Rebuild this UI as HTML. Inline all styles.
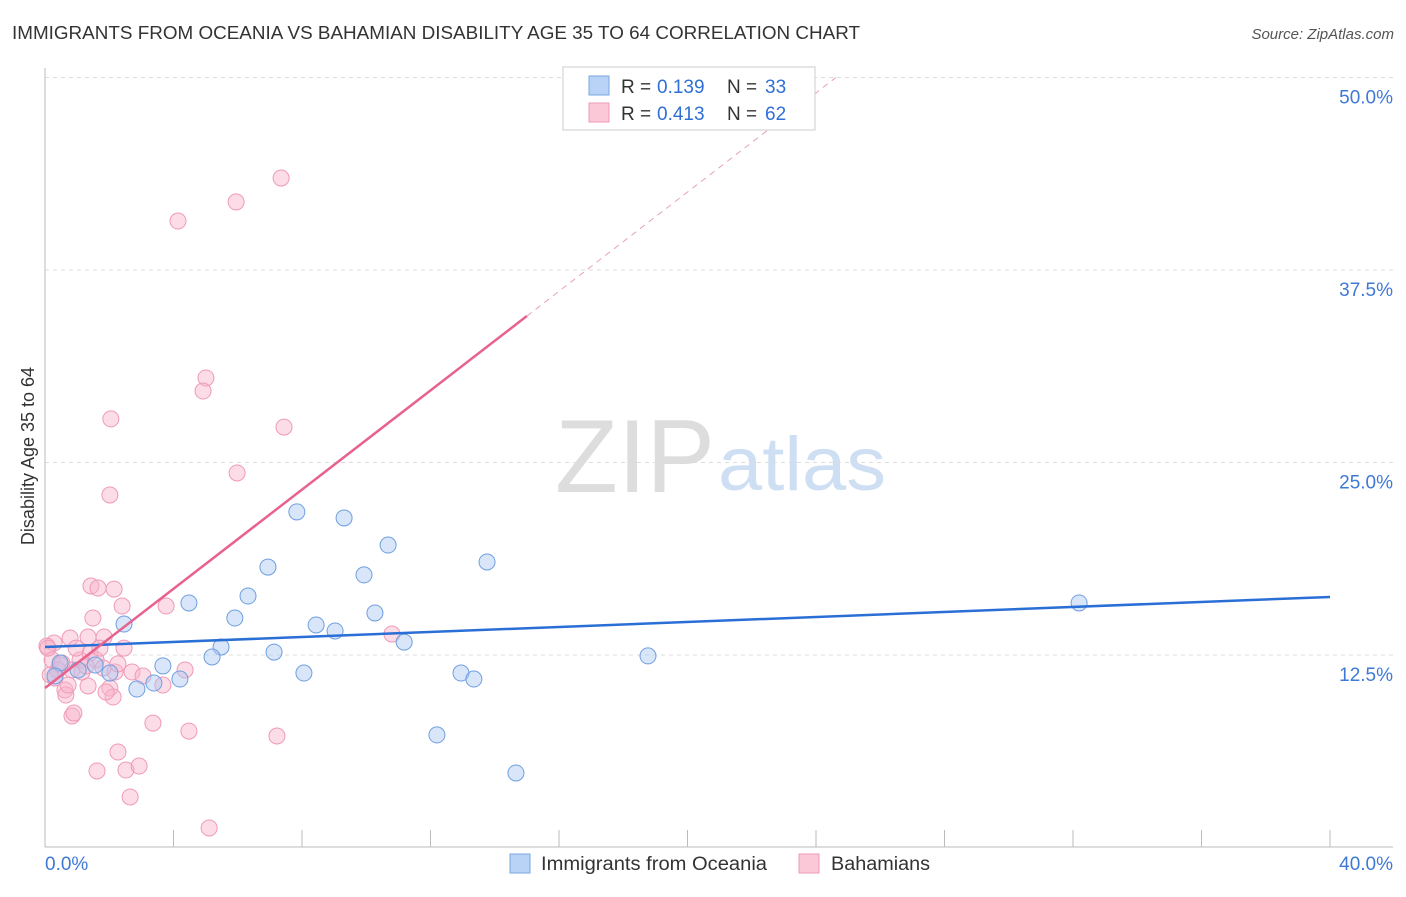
<!DOCTYPE html>
<html><head><meta charset="utf-8"><style>
body{margin:0;background:#fff;font-family:"Liberation Sans",sans-serif;}
svg text{font-family:"Liberation Sans",sans-serif;}
</style></head><body>
<svg id="c" width="1406" height="892" xmlns="http://www.w3.org/2000/svg">
<text x="12" y="39" font-size="18" fill="#333" textLength="848" lengthAdjust="spacingAndGlyphs">IMMIGRANTS FROM OCEANIA VS BAHAMIAN DISABILITY AGE 35 TO 64 CORRELATION CHART</text>
<text x="1394" y="39" font-size="15" fill="#555" text-anchor="end" font-style="italic">Source: ZipAtlas.com</text>
<text x="555" y="492" font-size="104" fill="#ddd" textLength="160" lengthAdjust="spacingAndGlyphs" font-family="Liberation Serif">ZIP</text>
<text x="718" y="490" font-size="76" fill="#cfdff3" textLength="168" lengthAdjust="spacingAndGlyphs">atlas</text>
<text transform="translate(34,456) rotate(-90)" font-size="18" fill="#333" text-anchor="middle">Disability Age 35 to 64</text>
<g id="grid"></g><g id="pts"></g><g id="lines"></g>
<g>
<rect x="563" y="67" width="252" height="63" fill="#fff" stroke="#ccc"/>
<rect x="589" y="76" width="20" height="19" fill="#b8d3f5" stroke="#7aa7e0"/>
<rect x="589" y="103" width="20" height="19" fill="#fbc8d8" stroke="#ee9ab6"/>
<text x="621" y="93" font-size="19" fill="#333">R =</text><text x="657" y="93" font-size="19" fill="#2f6fd6">0.139</text>
<text x="727" y="93" font-size="19" fill="#333">N =</text><text x="765" y="93" font-size="19" fill="#2f6fd6">33</text>
<text x="621" y="120" font-size="19" fill="#333">R =</text><text x="657" y="120" font-size="19" fill="#2f6fd6">0.413</text>
<text x="727" y="120" font-size="19" fill="#333">N =</text><text x="765" y="120" font-size="19" fill="#2f6fd6">62</text>
</g>
<g>
<rect x="510" y="854" width="20" height="19" fill="#b8d3f5" stroke="#7aa7e0"/>
<text x="541" y="870" font-size="19" fill="#333" textLength="226" lengthAdjust="spacingAndGlyphs">Immigrants from Oceania</text>
<rect x="799" y="854" width="20" height="19" fill="#fbc8d8" stroke="#ee9ab6"/>
<text x="831" y="870" font-size="19" fill="#333" textLength="99" lengthAdjust="spacingAndGlyphs">Bahamians</text>
</g>
</svg>
<script>
const yTicks=[12.5,25,37.5,50];
const yTickLabels=["12.5%","25.0%","37.5%","50.0%"];
const xTicks=[0,4,8,12,16,20,24,28,32,36,40];
const xLabels=["0.0%","40.0%"];
const blueX=[7.84,9.31,10.68,6.94,13.76,9.93,6.32,4.48,10.27,5.91,2.46,8.44,9.03,5.48,11.18,7.13,5.20,18.77,3.67,2.02,8.06,12.95,13.35,4.20,3.39,2.86,12.20,14.66,32.19,0.47,1.03,0.31,1.56];
const blueY=[21.79,21.40,19.64,18.21,18.54,17.70,16.33,15.88,15.23,14.90,14.51,14.45,14.06,13.02,13.34,12.69,12.37,12.44,11.79,11.33,11.33,11.33,10.94,10.94,10.68,10.29,7.31,4.84,15.88,11.98,11.53,11.14,11.85];
const pinkX=[7.35,5.95,4.14,5.01,4.92,2.05,7.44,5.98,2.02,1.43,2.15,1.65,2.40,3.77,1.49,10.80,2.46,1.84,0.28,0.78,1.34,0.06,0.22,0.47,1.09,1.40,1.59,0.84,2.18,2.71,3.05,4.36,3.67,0.31,0.62,1.34,2.02,0.65,2.12,0.84,0.90,3.36,4.48,7.22,2.27,1.62,2.52,2.93,2.65,5.11,0.09,0.40,0.97,1.81,0.72,1.15,0.16,0.53,1.28,1.71,2.27,1.90];
const pinkY=[43.47,41.92,40.68,30.49,29.64,27.83,27.30,24.32,22.89,16.98,16.78,16.85,15.68,15.68,14.90,13.86,12.95,13.67,13.28,13.60,13.67,13.08,12.18,11.85,12.18,12.63,12.18,11.53,11.40,11.40,11.14,11.53,10.55,11.01,10.23,10.49,10.36,9.90,9.77,8.54,8.73,8.08,7.56,7.24,6.20,4.97,5.03,5.29,3.28,1.27,12.95,11.53,12.95,11.66,10.55,11.40,11.20,11.98,11.79,12.95,11.92,10.10];
const blueTrend=[13.02,16.27]; // y at x=0 and x=40
const pinkTrend=[10.36,1.61];   // intercept, slope
const sx=v=>45+v/40*1285, sy=v=>847.5-v/12.5*192.5;
const NS="http://www.w3.org/2000/svg";
function mk(tag,a,parent){const e=document.createElementNS(NS,tag);for(const k in a)e.setAttribute(k,a[k]);parent.appendChild(e);return e;}
const grid=document.getElementById('grid'),pts=document.getElementById('pts'),lines=document.getElementById('lines');
yTicks.forEach((t,i)=>{
 const g=mk('line',{x1:45,x2:1393,y1:sy(t),y2:sy(t),stroke:'#ddd','stroke-dasharray':'4,4'},grid);
 
 
 const l=mk('text',{x:1393,y:sy(t)+26,'font-size':19,fill:'#3f79d6','text-anchor':'end'},grid);l.textContent=yTickLabels[i];
 
 
});
mk('line',{x1:45,x2:45,y1:68,y2:847,stroke:'#bbb'},grid);
mk('line',{x1:45,x2:1393,y1:847,y2:847,stroke:'#bbb'},grid);
xTicks.forEach(t=>{const e=mk('line',{x1:sx(t),x2:sx(t),y1:830,y2:847,stroke:'#bbb'},grid);
 
 });
const l0=mk('text',{x:45,y:870,'font-size':19,fill:'#3f79d6'},grid);l0.textContent=xLabels[0];


const l1=mk('text',{x:1393,y:870,'font-size':19,fill:'#3f79d6','text-anchor':'end'},grid);l1.textContent=xLabels[1];


pinkX.forEach((x,i)=>{const c=mk('circle',{cx:sx(x),cy:sy(pinkY[i]),r:8,fill:'rgba(248,180,202,0.45)',stroke:'#ef9ab7','stroke-width':1},pts);
 
 });
blueX.forEach((x,i)=>{const c=mk('circle',{cx:sx(x),cy:sy(blueY[i]),r:8,fill:'rgba(170,200,242,0.45)',stroke:'#6f9fe0','stroke-width':1},pts);
 
 });
const bl=mk('line',{x1:sx(0),y1:sy(blueTrend[0]),x2:sx(40),y2:sy(blueTrend[1]),stroke:'#2a6fd6','stroke-width':2.5},lines);


const pe=15, pd=(50-pinkTrend[0])/pinkTrend[1];
const pl=mk('line',{x1:sx(0),y1:sy(pinkTrend[0]),x2:sx(pe),y2:sy(pinkTrend[0]+pinkTrend[1]*pe),stroke:'#e8628f','stroke-width':2.5},lines);


const pdl=mk('line',{x1:sx(pe),y1:sy(pinkTrend[0]+pinkTrend[1]*pe),x2:sx(pd),y2:sy(50),stroke:'#e8a0b8','stroke-width':1,'stroke-dasharray':'6,5'},lines);


</script>
</body></html>
